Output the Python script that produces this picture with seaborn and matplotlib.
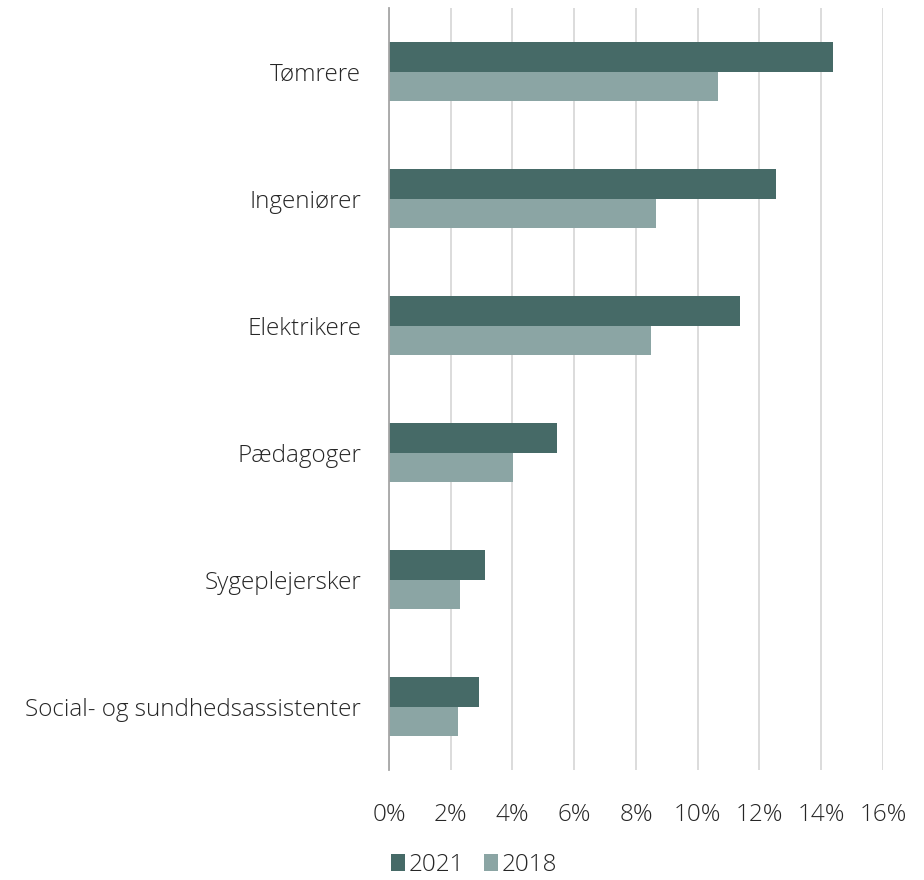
import pandas as pd
import matplotlib.pyplot as plt
import seaborn as sns
from matplotlib.ticker import PercentFormatter, MultipleLocator

categories = ['Tømrere', 'Ingeniører', 'Elektrikere', 'Pædagoger',
              'Sygeplejersker', 'Social- og sundhedsassistenter']
v2021 = [14.37, 12.52, 11.36, 5.44, 3.11, 2.91]
v2018 = [10.65, 8.64, 8.48, 4.01, 2.30, 2.23]
years = ['2021', '2018']

df = pd.DataFrame({'cat': categories * 2,
                   'val': v2021 + v2018,
                   'year': [years[0]] * 6 + [years[1]] * 6})

sns.set_style('white')
plt.rcParams['font.family'] = ['Open Sans', 'DejaVu Sans']
plt.rcParams['font.weight'] = 'light'

fig = plt.figure(figsize=(9.24, 8.8), dpi=100)
ax = fig.add_axes([0.421, 0.125, 0.9556 - 0.421, 0.9909 - 0.125])

sns.barplot(data=df, y='cat', x='val', hue='year', orient='h',
            palette=['#466A67', '#8BA5A4'], width=0.47, gap=0,
            saturation=1, edgecolor='none', ax=ax, legend=True)

ax.set_xlim(0, 16)
ax.set_ylim(5.5, -0.5)
ax.xaxis.set_major_locator(MultipleLocator(2))
ax.xaxis.set_major_formatter(PercentFormatter(decimals=0))
ax.grid(axis='x', color='#d9d9d9', linewidth=1.3)
ax.set_axisbelow(True)
for s in ['top', 'right', 'bottom']:
    ax.spines[s].set_visible(False)
ax.spines['left'].set_color('#a6a6a6')
ax.spines['left'].set_linewidth(1.3)
ax.tick_params(axis='both', length=0, labelsize=17.5, colors='#262626')
ax.tick_params(axis='x', pad=24)
ax.tick_params(axis='y', pad=20)
ax.set_xlabel('')
ax.set_ylabel('')

ax.legend(loc='center', bbox_to_anchor=(474 / 924, 1 - 865 / 880),
          bbox_transform=fig.transFigure, ncol=2, frameon=False,
          fontsize=17.5, handlelength=0.6, handleheight=0.7,
          handletextpad=0.15, columnspacing=0.8, labelcolor='#262626')

fig.savefig('out.png', dpi=100)
